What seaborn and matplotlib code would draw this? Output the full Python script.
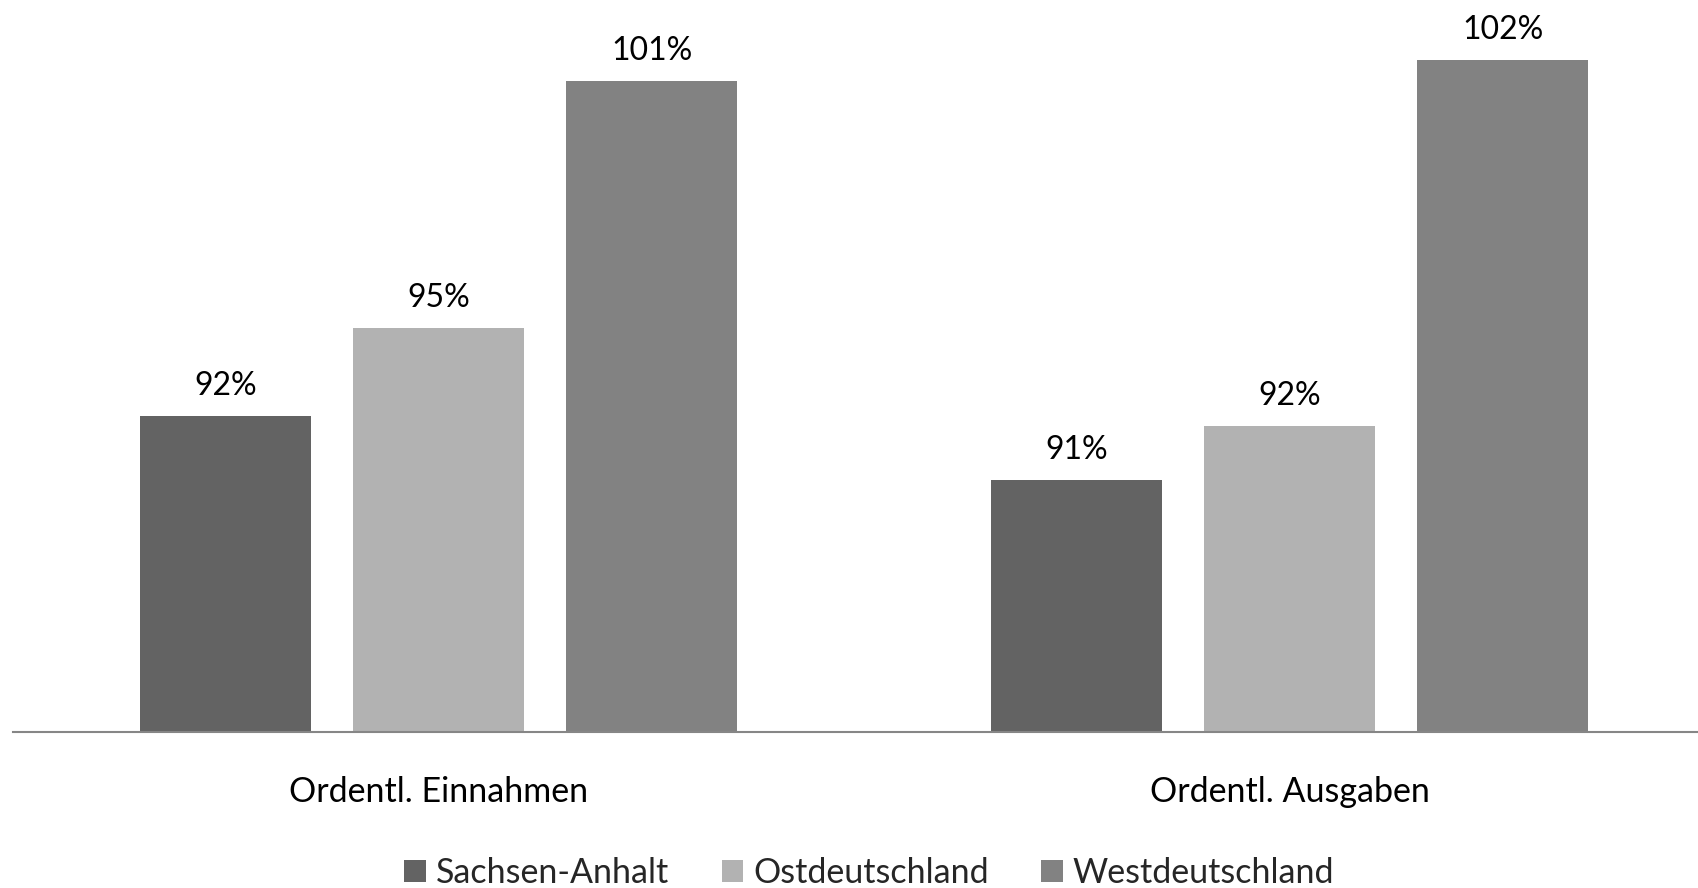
import pandas as pd
import seaborn as sns
import matplotlib.pyplot as plt

## datos
kategorien = ['Ordentl. Einnahmen', 'Ordentl. Ausgaben']
regionen = ['Sachsen-Anhalt', 'Ostdeutschland', 'Westdeutschland']
sachsen_anhalt = [92.36, 90.67]
ostdeutschland = [94.69, 92.10]
westdeutschland = [101.22, 101.77]
farben = ['#636363', '#b2b2b2', '#828282']

df = pd.DataFrame({
    'KAT': kategorien * 3,
    'REGION': [r for r in regionen for _ in kategorien],
    'WERT': sachsen_anhalt + ostdeutschland + westdeutschland,
})

## setting
sns.set_theme(style="white")
plt.rcParams['font.family'] = ['Lato', 'DejaVu Sans']
fs = 23
fs_txt = 24.5

fig = plt.figure(figsize=(16.98, 8.88), dpi=100)
ax = fig.add_axes([13 / 1698, 156 / 888, 1 - 13 / 1698, 732 / 888])

sns.barplot(data=df, x='KAT', y='WERT', hue='REGION', hue_order=regionen,
            palette=farben, width=0.751, gap=0.2, saturation=1, ax=ax,
            edgecolor='none', linewidth=0)

for cont in ax.containers:
    ax.bar_label(cont, labels=[f'{b.get_height():.0f}%' for b in cont],
                 padding=11, fontsize=fs, color='black')

ax.set_ylim(84, 84 + 732 / 37.8)
ax.set_xlim(-0.5, 1.48)
ax.set_xlabel('')
ax.set_ylabel('')
ax.set_yticks([])
ax.tick_params(axis='x', length=0, pad=32, labelsize=fs_txt, labelcolor='black')
for s in ['top', 'right', 'left']:
    ax.spines[s].set_visible(False)
ax.spines['bottom'].set_color('#868686')
ax.spines['bottom'].set_linewidth(1.5)

ax.get_legend().remove()
h, l = ax.get_legend_handles_labels()
fig.legend(h, l, loc='center', bbox_to_anchor=(0.512, 1 - 873 / 888), ncol=3,
           frameon=False, fontsize=fs_txt, handlelength=0.62, handleheight=0.62,
           handletextpad=0.3, columnspacing=1.55)

fig.savefig('out.png', dpi=100)
